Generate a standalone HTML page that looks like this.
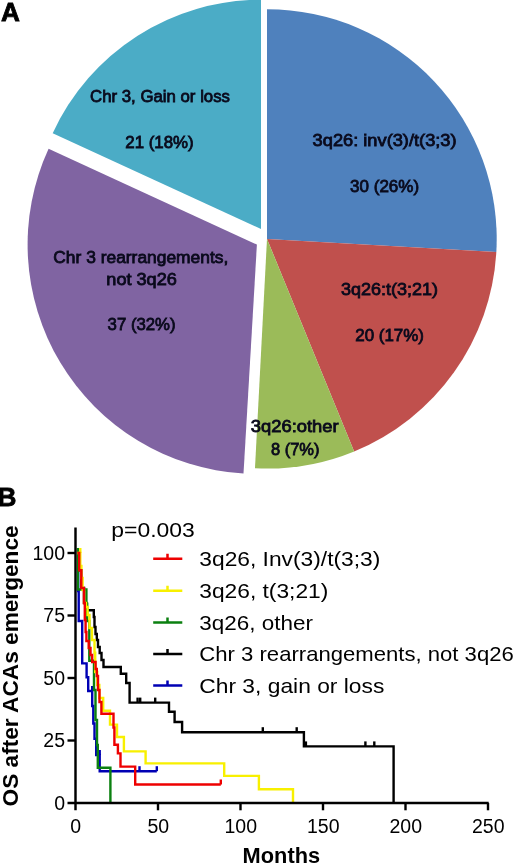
<!DOCTYPE html>
<html><head><meta charset="utf-8"><title>Figure</title>
<style>
html,body{margin:0;padding:0;background:#fff;}
body{width:520px;height:864px;overflow:hidden;}
svg{display:block;}
text{font-family:"Liberation Sans",sans-serif;fill:#000;}
.pie text{font-size:16.9px;text-anchor:middle;fill:#0a0a1c;stroke:#0a0a1c;stroke-width:0.8px;}
.tl text{font-size:19.5px;}
.leg text{font-size:20.3px;}
.b{font-weight:bold;}
</style></head><body>
<svg width="520" height="864" viewBox="0 0 520 864">
<rect width="520" height="864" fill="#fff"/>
<g class="pie">
<path d="M267.00,238.90 L267.00,9.20 A229.7,229.7 0 0 1 496.32,252.12 Z" fill="#4F81BD"/>
<path d="M267.00,238.90 L496.32,252.12 A229.7,229.7 0 0 1 354.16,451.42 Z" fill="#C0504D"/>
<path d="M267.00,238.90 L354.16,451.42 A229.7,229.7 0 0 1 254.98,468.29 Z" fill="#9BBB59"/>
<path d="M256.90,244.60 L243.50,473.51 A229.3,229.3 0 0 1 48.58,148.78 Z" fill="#8064A2"/>
<path d="M261.00,229.00 L52.68,133.18 A229.3,229.3 0 0 1 261.00,-0.30 Z" fill="#4BACC6"/>
<text x="160" y="102.2" textLength="140" lengthAdjust="spacingAndGlyphs">Chr 3, Gain or loss</text>
<text x="159.5" y="148" textLength="68.4" lengthAdjust="spacingAndGlyphs">21 (18%)</text>
<text x="384.6" y="145.9" textLength="144" lengthAdjust="spacingAndGlyphs">3q26: inv(3)/t(3;3)</text>
<text x="384.6" y="191.6" textLength="69" lengthAdjust="spacingAndGlyphs">30 (26%)</text>
<text x="389.6" y="294.8" textLength="97" lengthAdjust="spacingAndGlyphs">3q26:t(3;21)</text>
<text x="389.6" y="340.5" textLength="68.6" lengthAdjust="spacingAndGlyphs">20 (17%)</text>
<text x="140.8" y="262.7" textLength="175" lengthAdjust="spacingAndGlyphs">Chr 3 rearrangements,</text>
<text x="141.6" y="284.8" textLength="70.5" lengthAdjust="spacingAndGlyphs">not 3q26</text>
<text x="141.6" y="330" textLength="68" lengthAdjust="spacingAndGlyphs">37 (32%)</text>
<text x="294.7" y="432.2" textLength="87.8" lengthAdjust="spacingAndGlyphs">3q26:other</text>
<text x="295.2" y="454.8" textLength="48.6" lengthAdjust="spacingAndGlyphs">8 (7%)</text>
</g>
<text class="b" x="1.1" y="20.8" font-size="26.2" stroke="#000" stroke-width="0.8">A</text>
<text class="b" x="-2.6" y="506.1" font-size="26.2" stroke="#000" stroke-width="0.8">B</text>
<g class="km">
<path d="M78.2,553 V591 H78.7 V621 H82.2 V663.4 H86.6 V677.3 H88.2 V691 H92.2 V706 H93.3 V723.5 H94.5 V738.7 H96.2 V755 H99.7 V771.2 H156.8" fill="none" stroke="#0000B4" stroke-width="2.4" stroke-linejoin="miter"/>
<path d="M92.2,691 v-5" stroke="#0000B4" stroke-width="2.4" fill="none"/>
<path d="M99.7,755 v-5" stroke="#0000B4" stroke-width="2.4" fill="none"/>
<path d="M139.5,771.2 v-5" stroke="#0000B4" stroke-width="2.4" fill="none"/>
<path d="M156.8,771.2 v-5" stroke="#0000B4" stroke-width="2.4" fill="none"/>
<path d="M77.4,553 H79 V570.3 H81.3 V588 H84 V603 H86.5 V610.2 H93.8 V617 H94.5 V627 H95.5 V634 H96.8 V640 H98 V647 H99.7 V653 H101.5 V660 H103.5 V667 H120.8 V673.8 H126.2 V683 H129.6 V702.6 H169 V711.8 H174.6 V722 H182.1 V732.2 H303.9 V746.4 H393.6 V803" fill="none" stroke="#000000" stroke-width="2.4" stroke-linejoin="miter"/>
<path d="M137.6,702.6 v-5" stroke="#000000" stroke-width="2.4" fill="none"/>
<path d="M140.2,702.6 v-5" stroke="#000000" stroke-width="2.4" fill="none"/>
<path d="M155.2,702.6 v-5" stroke="#000000" stroke-width="2.4" fill="none"/>
<path d="M262.8,732.2 v-5" stroke="#000000" stroke-width="2.4" fill="none"/>
<path d="M296.7,732.2 v-5" stroke="#000000" stroke-width="2.4" fill="none"/>
<path d="M305.9,746.4 v-5" stroke="#000000" stroke-width="2.4" fill="none"/>
<path d="M365.4,746.4 v-5" stroke="#000000" stroke-width="2.4" fill="none"/>
<path d="M374.3,746.4 v-5" stroke="#000000" stroke-width="2.4" fill="none"/>
<path d="M77.9,553 V589.5 H86.4 V603.7 H87.2 V621 H89.3 V660.8 H94 V690 H95.5 V720 H97 V745 H97.8 V767.7 H110.4 V802" fill="none" stroke="#0B8010" stroke-width="2.4" stroke-linejoin="miter"/>
<path d="M77.9,553 v-5" stroke="#0B8010" stroke-width="2.4" fill="none"/>
<path d="M77.4,553 H80.3 V566 H81.4 V578 H82.6 V590 H84.1 V603 H86 V607 H87.6 V615 H89.5 V628 H92 V640 H94.5 V652.7 H95.2 V672 H97.2 V685 H99.3 V698 H103.2 V710.8 H110 V724.6 H117 V737 H123.9 V751.4 H145.6 V763.4 H224.2 V775.9 H258.9 V789.2 H293 V802" fill="none" stroke="#F8F000" stroke-width="2.4" stroke-linejoin="miter"/>
<path d="M80.3,553 v-5" stroke="#F8F000" stroke-width="2.4" fill="none"/>
<path d="M77.4,553 H79.2 V570.3 H81.3 V588 H84 V603 H84.8 V620 H85.6 V632 H86.4 V641 H88.7 V648 H90.5 V655 H92.2 V662 H95.6 V669 H96.8 V676 H98 V690 H99.5 V702 H101.4 V713.7 H113.5 V727.5 H114.4 V744.7 H117.9 V753.4 H120.5 V766.6 H135.2 V784.5 H220.8" fill="none" stroke="#EE0000" stroke-width="2.4" stroke-linejoin="miter"/>
<path d="M220.8,784.5 v-5" stroke="#EE0000" stroke-width="2.4" fill="none"/>
</g>
<g class="ax">
<path d="M75.5,527.5 V810.3 M67.5,803 H488.7" stroke="#000" stroke-width="2.45" fill="none"/>
<path d="M67.5,740.50 H75.5" stroke="#000" stroke-width="2.4"/>
<path d="M67.5,678.00 H75.5" stroke="#000" stroke-width="2.4"/>
<path d="M67.5,615.50 H75.5" stroke="#000" stroke-width="2.4"/>
<path d="M67.5,553.00 H75.5" stroke="#000" stroke-width="2.4"/>
<path d="M158.00,803 V810.3" stroke="#000" stroke-width="2.4"/>
<path d="M240.50,803 V810.3" stroke="#000" stroke-width="2.4"/>
<path d="M323.00,803 V810.3" stroke="#000" stroke-width="2.4"/>
<path d="M405.50,803 V810.3" stroke="#000" stroke-width="2.4"/>
<path d="M488.00,803 V810.3" stroke="#000" stroke-width="2.4"/>
</g>
<g class="tl">
<text x="65" y="809.9" text-anchor="end">0</text>
<text x="65" y="747.4" text-anchor="end">25</text>
<text x="65" y="684.9" text-anchor="end">50</text>
<text x="65" y="622.4" text-anchor="end">75</text>
<text x="65" y="559.9" text-anchor="end">100</text>
<text x="75.8" y="833.2" text-anchor="middle">0</text>
<text x="158.3" y="833.2" text-anchor="middle">50</text>
<text x="240.8" y="833.2" text-anchor="middle">100</text>
<text x="323.3" y="833.2" text-anchor="middle">150</text>
<text x="405.8" y="833.2" text-anchor="middle">200</text>
<text x="488.3" y="833.2" text-anchor="middle">250</text>
</g>
<g class="leg">
<text x="111.3" y="536.6" textLength="83.5" lengthAdjust="spacingAndGlyphs">p=0.003</text>
<path d="M153.2,558.8 H182.3 M167.5,558.8 v-5" stroke="#EE0000" stroke-width="2.5" fill="none"/>
<text x="199.3" y="565.8" textLength="181" lengthAdjust="spacingAndGlyphs">3q26, Inv(3)/t(3;3)</text>
<path d="M153.2,590.8 H182.3 M167.5,590.8 v-5" stroke="#F8F000" stroke-width="2.5" fill="none"/>
<text x="199.3" y="598.1" textLength="129" lengthAdjust="spacingAndGlyphs">3q26, t(3;21)</text>
<path d="M153.2,622.4 H182.3 M167.5,622.4 v-5" stroke="#0B8010" stroke-width="2.5" fill="none"/>
<text x="199.3" y="629.8" textLength="113.6" lengthAdjust="spacingAndGlyphs">3q26, other</text>
<path d="M153.2,653.9 H182.3 M167.5,653.9 v-5" stroke="#000" stroke-width="2.5" fill="none"/>
<text x="199.3" y="661.25" textLength="314.5" lengthAdjust="spacingAndGlyphs">Chr 3 rearrangements, not 3q26</text>
<path d="M153.2,685.5 H182.3 M167.5,685.5 v-5" stroke="#0000B4" stroke-width="2.5" fill="none"/>
<text x="199.3" y="692.5" textLength="185" lengthAdjust="spacingAndGlyphs">Chr 3, gain or loss</text>
</g>
<text class="b" font-size="22" transform="translate(17.9,806.4) rotate(-90)" textLength="281" lengthAdjust="spacingAndGlyphs">OS after ACAs emergence</text>
<text class="b" font-size="21.6" x="242.6" y="862.5" textLength="77.5" lengthAdjust="spacingAndGlyphs">Months</text>
</svg>
</body></html>
